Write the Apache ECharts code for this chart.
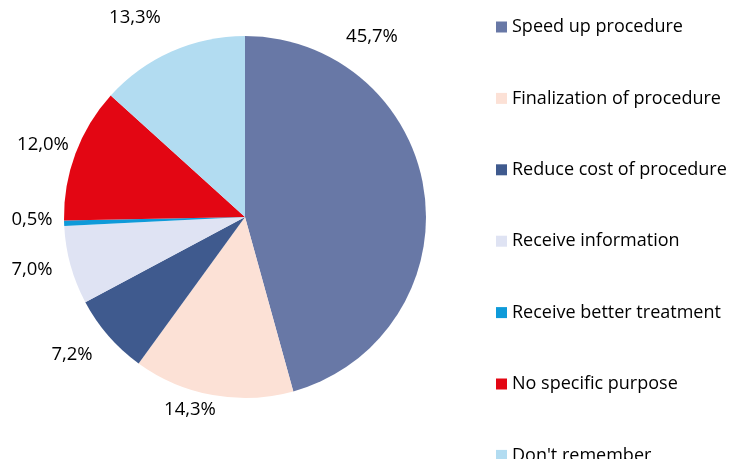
<!DOCTYPE html>
<html><head><meta charset="utf-8">
<script src="https://cdn.jsdelivr.net/npm/echarts@6/dist/echarts.min.js"></script>
<style>html,body{margin:0;padding:0;background:#fff}#c{width:736px;height:459px}</style>
</head><body><div id="c"></div>
<script>
const categories = ["Speed up procedure","Finalization of procedure","Reduce cost of procedure","Receive information","Receive better treatment","No specific purpose","Don't remember"];
const values = [45.7, 14.3, 7.2, 7.0, 0.5, 12.0, 13.3];
const colors = ["#6878a6","#fce1d6","#3f5a8e","#dfe3f3","#0e9ad9","#e30613","#b2dcf1"];
const labelPos = [[372,37],[190,410],[72,355],[32,270],[32,220],[43,145],[135,18]];

const chart = echarts.init(document.getElementById('c'));
chart.setOption({
  animation:false,
  legend:{
    type:'plain', orient:'vertical', left:496, top:18, height:450, itemWidth:11, itemHeight:11, itemGap:53.4,
    icon:'rect', padding:0,
    textStyle:{fontFamily:'Open Sans', fontSize:18, color:'#000'},
    data:categories
  },
  series:[{
    type:'pie', center:[245,217], radius:181, startAngle:90, clockwise:true,
    avoidLabelOverlap:false,
    label:{show:true, position:'outside', formatter:p=>values[p.dataIndex].toFixed(1).replace('.',',')+'%',
      fontFamily:'Open Sans', fontSize:18.5, color:'#000'},
    labelLine:{show:false},
    labelLayout:function(p){const q=labelPos[p.dataIndex];return {x:q[0],y:q[1],align:'center',verticalAlign:'middle'};},
    itemStyle:{borderWidth:0},
    emphasis:{disabled:true},
    data:categories.map((n,i)=>({name:n,value:values[i],itemStyle:{color:colors[i]}}))
  }]
});
</script></body></html>
